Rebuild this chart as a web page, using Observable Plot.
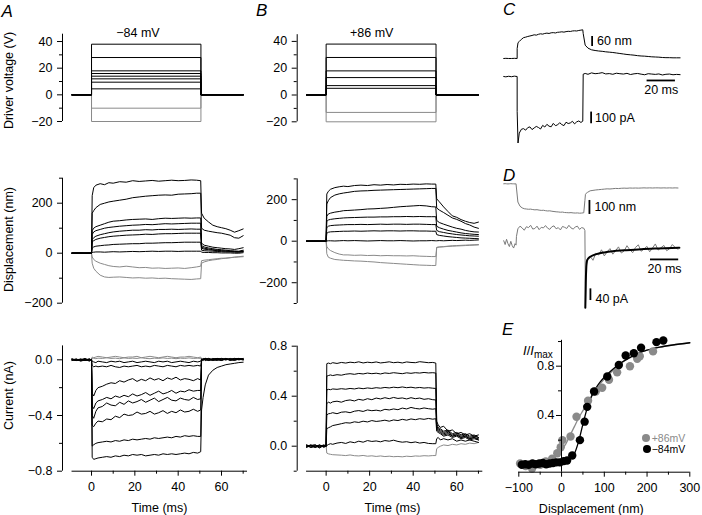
<!DOCTYPE html>
<html><head><meta charset="utf-8">
<script src="https://cdn.jsdelivr.net/npm/d3@7"></script>
<script src="https://cdn.jsdelivr.net/npm/@observablehq/plot@0.6"></script>
<style>
body{margin:0;background:#fff;}
#fig{position:relative;width:702px;height:515px;font-family:"Liberation Sans",Arial,Helvetica,sans-serif;color:#000;overflow:hidden;}
#fig svg{position:absolute;left:0;top:0;}
.lbl{position:absolute;white-space:nowrap;line-height:1;}
.dot{position:absolute;width:8px;height:8px;border-radius:50%;}
</style></head><body><div id="fig"></div>
<script>
// ---------------- DATA ----------------
// Driver-voltage step protocol (ms) and levels (V)
const vT = [-9, 0, 0, 50.5, 50.5, 70];
const aVoltBlack = [[0,0,38,38,0,0],[0,0,28,28,0,0],[0,0,18,18,0,0],[0,0,16,16,0,0],[0,0,14,14,0,0],[0,0,12,12,0,0],[0,0,9.5,9.5,0,0],[0,0,4.5,4.5,0,0]];
const aVoltGray = [[0,0,-10,-10,0,0],[0,0,-20,-20,0,0]];
const bVoltBlack = [[0,0,38,38,0,0],[0,0,28,28,0,0],[0,0,18,18,0,0],[0,0,13,13,0,0],[0,0,7,7,0,0],[0,0,5,5,0,0]];
const bVoltGray = [[0,0,-13,-13,0,0],[0,0,-20,-20,0,0]];

// Displacement traces (nm) sampled at tD (ms)
const tD = [-9,-6,-3,-0.01, 0.3,1,2,4,6,8,10,13,16,19,22,25,28,31,34,37,40,43,46,48.5,50.4, 50.8,52,54,56,58,60,62,64,66,68,70];
const aD1 = [0,2,-1,0, 230,262,272,278,274,282,280,286,284,290,287,289,291,288,290,292,290,291,293,292,290, 160,140,125,112,106,102,98,92,84,90,97];
const aD2 = [0,1,0,1, 160,170,182,195,200,205,208,212,216,222,225,228,230,232,233,232,236,237,238,240,240, 100,92,88,85,82,80,76,72,62,60,70];
const aD3 = [0,0,1,0, 90,100,106,112,118,124,128,130,133,135,136,137,135,138,140,139,140,141,140,141,141, 40,32,28,24,22,20,18,17,15,18,22];
const aD4 = [0,-1,0,0, 75,85,90,95,100,103,105,108,110,112,113,115,114,116,118,117,118,119,120,120,120, 30,25,21,18,15,14,12,10,9,8,12];
const aD5 = [0,0,0,1, 55,62,68,74,78,82,85,88,90,92,92,94,93,95,95,96,95,96,97,96,96, 25,20,17,14,12,10,9,8,7,6,9];
const aD6 = [1,0,0,0, 45,50,55,60,63,66,68,70,72,73,74,76,75,77,78,78,79,80,80,80,80, 20,16,14,12,10,9,8,7,6,5,7];
const aD7 = [0,0,-1,0, 20,25,28,30,32,33,35,36,37,38,38,40,40,41,42,42,43,44,44,44,44, 12,10,9,8,7,6,5,5,4,4,6];
const aD8 = [0,1,0,0, 3,4,5,5,4,5,6,5,6,7,6,7,8,7,8,8,7,8,8,8,8, 4,3,3,2,2,1,1,1,0,0,2];
const aD9 = [0,0,1,0, -15,-25,-32,-40,-45,-50,-53,-55,-52,-55,-58,-57,-60,-59,-61,-60,-59,-61,-58,-55,-52, -30,-28,-26,-24,-22,-20,-20,-18,-16,-15,-14];
const aD10 = [0,-1,0,0, -40,-60,-72,-88,-95,-97,-96,-95,-97,-99,-98,-100,-99,-101,-100,-102,-103,-104,-105,-103,-102, -40,-35,-30,-27,-25,-22,-20,-18,-16,-14,-12];

const bD1 = [0,1,0,0, 227,240,250,258,262,265,263,268,270,268,272,270,273,271,274,273,275,274,276,275,275, 204,190,165,143,122,115,104,96,90,86,92];
const bD2 = [0,0,1,0, 179,195,210,222,228,232,235,240,242,243,245,246,247,248,249,250,251,252,253,254,254, 160,150,138,125,112,105,96,85,78,68,62];
const bD3 = [0,0,0,1, 120,131,135,140,143,147,148,150,152,155,156,158,160,163,166,168,170,172,170,166,165, 100,90,82,75,68,62,58,52,48,45,44];
const bD4 = [0,1,0,0, 95,102,105,108,110,112,113,114,115,116,116,117,117,118,118,119,118,119,118,118,118, 72,65,58,52,48,44,40,37,35,33,32];
const bD5 = [0,0,1,0, 65,72,75,77,78,79,80,80,81,80,81,82,81,82,82,81,82,82,81,80,80, 52,46,42,38,35,32,30,28,26,25,24];
const bD6 = [1,0,0,0, 38,43,45,46,47,48,48,49,48,49,50,49,50,50,49,50,50,49,49,48,48, 32,28,25,22,20,18,16,15,14,13,12];
const bD7 = [0,0,0,0, 1,2,2,1,2,3,2,3,2,1,2,3,2,2,3,2,1,2,2,3,2, 2,3,2,3,4,3,4,5,4,5,6];
const bD8 = [0,0,1,0, -25,-37,-45,-55,-62,-66,-66,-68,-67,-69,-68,-70,-69,-70,-70,-71,-70,-72,-73,-74,-74, -30,-28,-26,-24,-22,-21,-20,-19,-18,-17,-16];
const bD9 = [0,-1,0,0, -60,-77,-82,-88,-90,-92,-93,-95,-96,-98,-100,-103,-105,-107,-109,-111,-113,-115,-116,-117,-117, -30,-28,-27,-25,-24,-23,-22,-21,-20,-19,-18];

// Current traces (nA) sampled at tI (ms)
const tI = [-9,-7,-5,-3,-1,-0.01, 0.3,1,2,3,5,7,9,11,13,15,17,19,21,23,25,27,29,31,33,35,37,39,41,43,45,47,49,50.4, 50.8,51.5,52.5,54,56,58,60,62,64,66,68,70];
const aI1 = [0.005,-0.005,0,0.01,-0.005,0, -0.70,-0.715,-0.71,-0.705,-0.70,-0.695,-0.70,-0.69,-0.695,-0.685,-0.69,-0.68,-0.685,-0.68,-0.69,-0.685,-0.68,-0.685,-0.675,-0.68,-0.675,-0.68,-0.675,-0.67,-0.675,-0.665,-0.67,-0.66, -0.36,-0.27,-0.18,-0.11,-0.075,-0.055,-0.045,-0.035,-0.03,-0.025,-0.02,-0.017];
const aI2 = [0,0.005,-0.005,0,0.005,0, -0.62,-0.61,-0.60,-0.595,-0.59,-0.585,-0.59,-0.58,-0.585,-0.575,-0.58,-0.57,-0.575,-0.57,-0.565,-0.57,-0.56,-0.565,-0.56,-0.555,-0.56,-0.55,-0.555,-0.545,-0.55,-0.545,-0.55,-0.55, -0.01,0.005,0,-0.005,0.01,0,-0.005,0.005,0,0.01,0,0.005];
const aI3 = [-0.005,0,0.005,-0.005,0,0.005, -0.47,-0.48,-0.455,-0.44,-0.445,-0.425,-0.43,-0.405,-0.415,-0.39,-0.40,-0.395,-0.375,-0.39,-0.385,-0.37,-0.39,-0.38,-0.365,-0.385,-0.37,-0.38,-0.36,-0.375,-0.37,-0.355,-0.37,-0.36, 0.005,-0.005,0.01,0,-0.005,0.005,0,0.01,-0.005,0,0.005,0];
const aI4 = [0.005,-0.005,0,0.005,-0.01,0, -0.40,-0.42,-0.37,-0.345,-0.335,-0.31,-0.325,-0.33,-0.305,-0.32,-0.295,-0.31,-0.30,-0.285,-0.305,-0.29,-0.275,-0.30,-0.285,-0.27,-0.29,-0.295,-0.275,-0.285,-0.29,-0.27,-0.285,-0.28, 0,0.01,-0.005,0.005,0,-0.005,0.01,0,0.005,-0.005,0.005,0];
const aI5 = [0,0.005,-0.01,0,0.005,-0.005, -0.33,-0.35,-0.31,-0.295,-0.285,-0.27,-0.28,-0.26,-0.27,-0.255,-0.265,-0.245,-0.26,-0.25,-0.235,-0.255,-0.24,-0.225,-0.245,-0.235,-0.22,-0.24,-0.225,-0.23,-0.215,-0.225,-0.22,-0.22, 0.005,0,0.01,-0.005,0.005,0.01,0,0.005,0,0.01,0.005,0.01];
const aI6 = [0.005,0,-0.005,0.005,0,0, -0.24,-0.26,-0.22,-0.20,-0.19,-0.175,-0.165,-0.17,-0.15,-0.16,-0.145,-0.135,-0.155,-0.14,-0.15,-0.13,-0.145,-0.135,-0.15,-0.13,-0.14,-0.125,-0.145,-0.135,-0.14,-0.15,-0.135,-0.145, -0.005,0.005,0,0.01,0,0.005,-0.005,0.01,0.005,0,0.01,0.005];
const aI7 = [0,-0.005,0.005,0,-0.005,0.005, -0.04,-0.05,-0.045,-0.05,-0.045,-0.05,-0.04,-0.05,-0.055,-0.045,-0.05,-0.045,-0.04,-0.05,-0.045,-0.05,-0.04,-0.045,-0.05,-0.04,-0.045,-0.05,-0.04,-0.045,-0.04,-0.045,-0.04,-0.045, 0,0.005,0.01,0,0.005,0.01,0.005,0,0.01,0.005,0.01,0.005];
const aI8 = [0.005,0,0,-0.005,0.005,0, -0.01,-0.015,-0.02,-0.01,-0.015,-0.02,-0.01,-0.015,-0.01,-0.02,-0.015,-0.01,-0.02,-0.015,-0.01,-0.015,-0.02,-0.01,-0.015,-0.01,-0.02,-0.015,-0.01,-0.015,-0.02,-0.01,-0.015,-0.01, 0.005,0,0.005,0.01,0,0.005,0.01,0.005,0,0.005,0.01,0.005];
const aI9 = [0,0.005,0,0.005,0,0, 0.02,0.015,0.02,0.025,0.02,0.015,0.02,0.025,0.02,0.015,0.02,0.02,0.025,0.015,0.02,0.025,0.02,0.015,0.02,0.025,0.02,0.015,0.02,0.02,0.025,0.02,0.015,0.02, 0.005,0,0.005,0,0.005,0.01,0,0.005,0,0.005,0,0.005];
const aI10 = [0,0,0.005,0,0.005,0, 0.01,0.012,0.008,0.012,0.01,0.015,0.01,0.012,0.008,0.014,0.01,0.012,0.01,0.015,0.01,0.008,0.012,0.01,0.014,0.01,0.012,0.008,0.012,0.01,0.014,0.01,0.012,0.01, 0,0.005,0,0.005,0,0,0.005,0,0.005,0,0.005,0];

const bI1 = [0.01,-0.01,0.005,-0.015,0.01,0, 0.66,0.665,0.66,0.668,0.662,0.67,0.665,0.672,0.668,0.675,0.666,0.672,0.668,0.674,0.666,0.67,0.675,0.668,0.672,0.666,0.674,0.67,0.668,0.676,0.672,0.668,0.67,0.665, 0.20,0.17,0.15,0.16,0.12,0.13,0.10,0.11,0.09,0.10,0.08,0.09];
const bI2 = [-0.005,0.01,-0.01,0.005,0,0.01, 0.56,0.565,0.57,0.565,0.572,0.568,0.576,0.58,0.575,0.582,0.578,0.585,0.58,0.584,0.578,0.586,0.582,0.588,0.584,0.58,0.587,0.583,0.588,0.585,0.59,0.586,0.588,0.585, 0.18,0.15,0.14,0.12,0.13,0.10,0.11,0.09,0.10,0.08,0.09,0.07];
const bI3 = [0.01,0,-0.01,0.01,-0.005,0, 0.45,0.455,0.452,0.458,0.455,0.46,0.456,0.462,0.458,0.465,0.46,0.466,0.462,0.468,0.464,0.47,0.466,0.472,0.468,0.474,0.468,0.472,0.466,0.47,0.465,0.468,0.464,0.462, 0.16,0.14,0.13,0.11,0.12,0.09,0.10,0.08,0.09,0.07,0.08,0.07];
const bI4 = [-0.01,0.005,0.01,-0.005,0,0.005, 0.34,0.352,0.345,0.355,0.36,0.352,0.365,0.37,0.362,0.375,0.368,0.38,0.372,0.385,0.378,0.388,0.38,0.39,0.382,0.386,0.378,0.388,0.38,0.385,0.375,0.38,0.372,0.37, 0.15,0.13,0.12,0.10,0.11,0.08,0.09,0.07,0.08,0.06,0.07,0.06];
const bI5 = [0.005,-0.01,0,0.01,-0.01,0.005, 0.25,0.259,0.262,0.268,0.26,0.272,0.275,0.268,0.28,0.285,0.278,0.29,0.284,0.288,0.282,0.295,0.29,0.298,0.292,0.305,0.298,0.31,0.302,0.298,0.306,0.3,0.296,0.3, 0.14,0.12,0.11,0.09,0.10,0.08,0.09,0.07,0.08,0.06,0.07,0.05];
const bI6 = [0,0.01,-0.005,0,0.01,-0.005, 0.14,0.147,0.155,0.165,0.172,0.18,0.188,0.185,0.195,0.19,0.2,0.194,0.205,0.198,0.202,0.208,0.2,0.21,0.205,0.215,0.208,0.218,0.212,0.22,0.215,0.222,0.216,0.22, 0.12,0.11,0.10,0.08,0.09,0.07,0.08,0.06,0.07,0.05,0.06,0.05];
const bI7 = [-0.005,0.005,0.01,-0.01,0.005,0, 0.005,0.013,0.02,0.015,0.025,0.03,0.022,0.035,0.028,0.04,0.032,0.045,0.038,0.042,0.035,0.045,0.04,0.048,0.038,0.032,0.036,0.028,0.034,0.025,0.03,0.022,0.02,0.02, 0.06,0.07,0.05,0.06,0.05,0.06,0.04,0.05,0.04,0.05,0.04,0.03];
const bI8 = [0,0.005,-0.005,0,0.005,0, -0.055,-0.061,-0.065,-0.068,-0.07,-0.072,-0.075,-0.07,-0.076,-0.078,-0.074,-0.08,-0.077,-0.082,-0.078,-0.083,-0.08,-0.084,-0.082,-0.085,-0.08,-0.083,-0.078,-0.08,-0.076,-0.078,-0.075,-0.075, -0.02,-0.01,0,0.01,0.005,0.015,0.01,0.02,0.015,0.025,0.02,0.03];

// Panel C (ms; nm; pA)
const tC = [-9.5,-8,-6,-4,-2,-0.01, 0,0.6,1.5,3,4.5,6,7.5,9,10.5,12,13.5,15,16.5,18,19.5,21,22.5,24,25.5,27,28.5,30,31.5,33,34.5,36,37.5,39,40.5,42,43.5,45,46.3, 46.6,48,50,52.5,55,57.5,60,62.5,65,67.5,70,72.5,75,77.5,80,82.5,85,87.5,90,92.5,95,97.5,100,102.5,105,107.5,110,112.5,115];
const cDisp = [0,1,0,0,1,0, 60,95,102,115,125,128,132,135,138,142,140,145,148,146,150,152,150,154,155,153,157,158,160,158,161,163,162,165,166,165,168,170,172, 150,80,62,52,48,45,43,40,38,36,33,30,27,24,22,20,17,15,14,12,10,9,8,6,5,5,4,4,4];
const cCurr = [0,-3,2,-2,3,0, -300,-570,-485,-452,-447,-460,-438,-432,-455,-441,-428,-437,-450,-419,-433,-410,-426,-431,-402,-421,-415,-396,-412,-421,-392,-403,-398,-384,-406,-389,-381,-394,-383, 20,26,19,31,24,27,33,22,25,19,28,24,21,27,17,23,26,20,15,24,21,18,22,13,19,21,15,18,16];
const cNmBar = [52.9, 72, 132];     // t, from, to (nm)
const cPaBar = [52.2, -405, -305];  // t, from, to (pA)
const cMsBar = [-34, 91.7, 111.7];  // level (pA), from, to (ms)

// Panel D (ms; nm; pA)
const tDD = [-9,-8,-7,-6,-5,-4,-3,-2,-1,-0.3, 0,1,2.5,4,5.5,7,8.5,10,11.5,13,14.5,16,17.5,19,20.5,22,23.5,25,26.5,28,29.5,31,32.5,34,35.5,37,38.5,40,41.5,43,44.5,46,47.5, 48.3,48.7,49.2,50,52,54,56,58,60,62,64,66,68,70,72,74,76,78,80,82,84,86,88,90,92,94,96,98,100,102,104,106,108,110,112,114];
const dDisp = [0,1,0,-1,0,1,0,0,-1,0, -30,-130,-160,-172,-178,-180,-182,-181,-184,-186,-185,-188,-190,-189,-192,-194,-193,-196,-198,-200,-201,-203,-202,-205,-206,-207,-206,-208,-209,-208,-210,-209,-207, -120,-75,-68,-62,-50,-47,-44,-42,-40,-38,-36,-37,-35,-33,-34,-32,-31,-32,-30,-31,-30,-31,-30,-29,-30,-29,-30,-29,-29,-30,-29,-30,-29,-30,-29,-30];
const dCurr = [5,-8,10,-5,-15,3,-12,-20,-5,-10, 20,46,55,49,41,53,50,58,45,47,55,43,51,49,57,48,44,53,56,46,50,42,54,51,47,58,49,45,52,55,44,50,48, 40,-225,-90,-58,-48,-62,-38,-44,-26,-47,-33,-22,-41,-29,-16,-37,-30,-12,-26,-36,-18,-9,-31,-24,-14,-33,-20,-6,-27,-19,-11,-29,-23,-8,-18,-24];
const dFitT = [48.6,48.9,49.3,49.7,50.5,52,54,57,62,68,76,88,100,115];
const dFitV = [-225,-140,-85,-65,-57,-50,-45,-40,-35,-31,-28,-24,-21.5,-19];
const dNmBar = [51.5, -219, -119];
const dPaBar = [52.2, -200, -160];
const dMsBar = [-59, 94.6, 114.5];

// Panel E (nm; I/Imax)
const eBlackX = [-93,-85,-77,-68,-60,-52,-44,-36,-28,-20,-12,-4,5,13,25,43,54,60,76,107,134,150,169,186,222,238];
const eBlackY = [0,0.005,0,0.01,0.005,0.01,0.015,0.005,0.01,0.015,0.02,0.02,0.03,0.035,0.075,0.20,0.35,0.47,0.595,0.716,0.81,0.887,0.905,0.95,0.995,1.008];
const eGrayX = [-97,-84,-69,-50,-37,-22,-10,-2,2,21,35,62,80,95,111,130,160,177,183,214];
const eGrayY = [0.01,-0.01,-0.03,0.0,0.027,0.05,0.094,0.143,0.20,0.23,0.39,0.52,0.595,0.625,0.69,0.75,0.80,0.86,0.88,0.92];
const eFitX = [-100,-75,-50,-25,0,10,20,30,40,50,60,70,80,90,100,120,140,160,180,200,230,260,300];
const eFitBlackY = [0.005,0.006,0.008,0.011,0.016,0.025,0.045,0.09,0.19,0.33,0.46,0.555,0.62,0.67,0.71,0.775,0.83,0.87,0.905,0.93,0.955,0.972,0.99];
const eFitGrayY = [0.006,0.01,0.018,0.04,0.12,0.17,0.24,0.31,0.38,0.44,0.5,0.555,0.61,0.655,0.695,0.765,0.825,0.87,0.905,0.93,0.955,0.972,0.99];

// Ticks
const voltMajor = [40,20,0,-20], voltMinor = [30,10,-10];
const dispMajor = [200,0,-200], aDispMinor = [300,100,-100], bDispMinor = [300,100,-100,-300];
const aCurMajor = [0,-0.4,-0.8], aCurMinor = [-0.2,-0.6];
const bCurMajor = [0.8,0.4,0], bCurMinor = [0.6,0.2,-0.2];
const timeMajor = [0,20,40,60], timeMinor = [10,30,50,70], timeSpan = [-9,72];
const eXMajor = [-100,0,100,200,300], eXMinor = [-50,50,150,250];
const eYMajor = [0.4,0.8], eYMinor = [0,0.2,0.6,1.0];

// ---------------- LAYOUT ----------------
const W = 702, H = 515;
const FONT = '"Liberation Sans", Arial, Helvetica, sans-serif';
const GRAY = "#8a8a8a";
const L = {
  aX: {dom: [-13.4, 72], px: [62, 247]},
  bX: {dom: [-13.3, 72], px: [296.7, 482.3]},
  aVolt: {dom: [-20, 45.5], px: [121, 33.7]},
  aDisp: {dom: [-200, 300], px: [302.7, 177.7]},
  aCurr: {dom: [-0.8, 0.1], px: [470.7, 345.4]},
  bVolt: {dom: [-20, 45], px: [121.3, 34.2]},
  bDisp: {dom: [-300, 300], px: [303, 178.4]},
  bCurr: {dom: [-0.2, 0.8], px: [470.7, 345.7]},
  cX: {dom: [-10, 115], px: [502.5, 679.6]},
  cDisp: {dom: [-30, 190], px: [63, 26.3]},
  cCurr: {dom: [-600, 60], px: [146, 69]},
  dX: {dom: [-10, 115], px: [501.8, 678.9]},
  dDisp: {dom: [-240, 20], px: [216.9, 180.5]},
  dCurr: {dom: [-240, 60], px: [311.7, 224.2]},
  eX: {dom: [-100, 300], px: [518.3, 689.3]},
  eY: {dom: [-0.06, 1.01], px: [471.7, 339.8]},
  eAxis: {dom: [0, 1], px: [561, 600]}
};
const fig = document.getElementById("fig");

function addPlot(xs, ys, marks, xAxis, yAxis) {
  const x = {domain: xs.dom}; if (!xAxis) x.axis = null;
  const y = {domain: ys.dom}; if (!yAxis) y.axis = null;
  const svg = Plot.plot({
    width: W, height: H,
    marginLeft: xs.px[0], marginRight: W - xs.px[1],
    marginTop: ys.px[1], marginBottom: H - ys.px[0],
    x, y,
    style: {fontFamily: FONT, fontSize: "12.5px", background: "transparent", color: "#000", overflow: "visible"},
    marks
  });
  fig.appendChild(svg);
}
const rows = (t, v) => t.map((x, i) => ({t: x, v: v[i]}));
const traces = (t, list, stroke, sw = 1) =>
  list.map(v => Plot.line(rows(t, v), {x: "t", y: "v", stroke, strokeWidth: sw, strokeLinejoin: "round"}));
function yAxisMarks(xs, ys, major, minor, fmt) {
  return [
    Plot.ruleX([xs.dom[0]], {y1: () => ys.dom[0], y2: () => ys.dom[1], stroke: "#000", strokeWidth: 1}),
    Plot.axisY(major, {tickSize: 5, tickPadding: 5, tickFormat: fmt, label: null}),
    Plot.axisY(minor, {tickSize: 3, fill: "none", label: null})
  ];
}
function xAxisMarks(ys) {
  return [
    Plot.ruleY([ys.dom[0]], {x1: () => timeSpan[0], x2: () => timeSpan[1], stroke: "#000", strokeWidth: 1}),
    Plot.axisX(timeMajor, {tickSize: 5, tickPadding: 6, tickFormat: d3.format("d"), label: null}),
    Plot.axisX(timeMinor, {tickSize: 3, fill: "none", label: null})
  ];
}
const yTitle = (s, dy) => Plot.text([s], {frameAnchor: "left", textAnchor: "middle", lineAnchor: "middle", rotate: -90, dx: -53.5, dy, fontSize: 12.5});
const xTitle = (s, dx) => Plot.text([s], {frameAnchor: "bottom", textAnchor: "middle", lineAnchor: "middle", dx, dy: 36.3, fontSize: 12.5});
const fInt = d3.format("d"), f1 = d3.format(".1f");

// ---- Panel A ----
addPlot(L.aX, L.aVolt, [
  ...traces(vT, aVoltGray, GRAY), ...traces(vT, aVoltBlack, "#000"),
  ...yAxisMarks(L.aX, L.aVolt, voltMajor, voltMinor, fInt),
  yTitle("Driver voltage (V)", 2.6)
], false, true);
addPlot(L.aX, L.aDisp, [
  ...traces(tD, [aD9, aD10], GRAY), ...traces(tD, [aD1, aD2, aD3, aD4, aD5, aD6, aD7, aD8], "#000"),
  ...yAxisMarks(L.aX, L.aDisp, dispMajor, aDispMinor, fInt),
  yTitle("Displacement (nm)", -1.2)
], false, true);
addPlot(L.aX, L.aCurr, [
  ...traces(tI, [aI9, aI10], GRAY), ...traces(tI, [aI1, aI2, aI3, aI4, aI5, aI6, aI7, aI8], "#000"),
  ...yAxisMarks(L.aX, L.aCurr, aCurMajor, aCurMinor, f1),
  ...xAxisMarks(L.aCurr),
  yTitle("Current (nA)", -13),
  xTitle("Time (ms)", 4.5)
], true, true);

// ---- Panel B ----
addPlot(L.bX, L.bVolt, [
  ...traces(vT, bVoltGray, GRAY), ...traces(vT, bVoltBlack, "#000"),
  ...yAxisMarks(L.bX, L.bVolt, voltMajor, voltMinor, fInt)
], false, true);
addPlot(L.bX, L.bDisp, [
  ...traces(tD, [bD8, bD9], GRAY), ...traces(tD, [bD1, bD2, bD3, bD4, bD5, bD6, bD7], "#000"),
  ...yAxisMarks(L.bX, L.bDisp, dispMajor, bDispMinor, fInt)
], false, true);
addPlot(L.bX, L.bCurr, [
  ...traces(tI, [bI8], GRAY), ...traces(tI, [bI1, bI2, bI3, bI4, bI5, bI6, bI7], "#000"),
  ...yAxisMarks(L.bX, L.bCurr, bCurMajor, bCurMinor, f1),
  ...xAxisMarks(L.bCurr),
  xTitle("Time (ms)", 2.5)
], true, true);

// ---- Panel C ----
const vBar = (b, lbl, dx, dy = 0) => [
  Plot.ruleX([b[0]], {y1: () => b[1], y2: () => b[2], stroke: "#000", strokeWidth: 1.8}),
  Plot.text([lbl], {x: () => b[0], y: () => (b[1] + b[2]) / 2, dx, dy, textAnchor: "start", fontSize: 12.5})
];
const hBar = (b, lbl, dy) => [
  Plot.ruleY([b[0]], {x1: () => b[1], x2: () => b[2], stroke: "#000", strokeWidth: 1.8}),
  Plot.text([lbl], {x: () => (b[1] + b[2]) / 2, y: () => b[0], dy, fontSize: 12.5})
];
addPlot(L.cX, L.cDisp, [
  ...traces(tC, [cDisp], "#000", 1),
  ...vBar(cNmBar, "60 nm", 5)
], false, false);
addPlot(L.cX, L.cCurr, [
  ...traces(tC, [cCurr], "#000", 1),
  ...vBar(cPaBar, "100 pA", 4),
  ...hBar(cMsBar, "20 ms", 10)
], false, false);

// ---- Panel D ----
addPlot(L.dX, L.dDisp, [
  ...traces(tDD, [dDisp], "#7a7a7a", 1),
  ...vBar(dNmBar, "100 nm", 5)
], false, false);
addPlot(L.dX, L.dCurr, [
  ...traces(tDD, [dCurr], "#7a7a7a", 1),
  Plot.line(rows(dFitT, dFitV), {x: "t", y: "v", stroke: "#000", strokeWidth: 2, curve: "monotone-x"}),
  ...vBar(dPaBar, "40 pA", 5, 4),
  ...hBar(dMsBar, "20 ms", 9.5)
], false, false);

// ---- Panel E ----
addPlot(L.eX, L.eY, [
  Plot.line(rows(eFitX, eFitGrayY), {x: "t", y: "v", stroke: GRAY, strokeWidth: 1.3, curve: "monotone-x"}),
  Plot.line(rows(eFitX, eFitBlackY), {x: "t", y: "v", stroke: "#000", strokeWidth: 1.3, curve: "monotone-x"}),
  Plot.dot(rows(eGrayX, eGrayY), {x: "t", y: "v", r: 4.2, fill: GRAY}),
  Plot.dot(rows(eBlackX, eBlackY), {x: "t", y: "v", r: 4.2, fill: "#000"}),
  Plot.ruleY([L.eY.dom[0]], {x1: () => L.eX.dom[0], x2: () => L.eX.dom[1], stroke: "#000"}),
  Plot.axisX(eXMajor, {tickSize: 5, tickPadding: 6, tickFormat: fInt, label: null}),
  Plot.axisX(eXMinor, {tickSize: 3, fill: "none", label: null}),
  xTitle("Displacement (nm)", -13)
], true, false);
addPlot(L.eAxis, L.eY, [
  Plot.ruleX([L.eAxis.dom[0]], {y1: () => L.eY.dom[0], y2: () => L.eY.dom[1], stroke: "#000"}),
  Plot.axisY(eYMajor, {tickSize: 5, tickPadding: 2, tickFormat: f1, label: null}),
  Plot.axisY(eYMinor, {tickSize: 3, fill: "none", label: null})
], false, true);

// ---------------- HTML LABELS ----------------
function label(html, left, top, style = "") {
  const d = document.createElement("div");
  d.className = "lbl"; d.innerHTML = html;
  d.style.cssText += `left:${left}px;top:${top}px;${style}`;
  fig.appendChild(d);
}
const letter = "font-size:17px;font-style:italic;";
label("A", 1.5, 2.9, letter);
label("B", 256, 2.3, letter);
label("C", 503, 0.6, letter);
label("D", 503, 166.6, letter);
label("E", 502, 320.6, letter);
label("\u221284 mV", 138, 26.7, "font-size:12.5px;transform:translateX(-50%);");
label("+86 mV", 371.7, 26.7, "font-size:12.5px;transform:translateX(-50%);");
label('<i>I</i>/<i>I</i><span style="font-size:10px;position:relative;top:3px;">max</span>', 523, 343.5, "font-size:13px;");
function dot(left, top, color) {
  const d = document.createElement("div"); d.className = "dot";
  d.style.cssText += `left:${left}px;top:${top}px;background:${color};`; fig.appendChild(d);
}
dot(642, 433.5, GRAY); label("+86mV", 651.7, 432.9, `font-size:10.5px;color:${GRAY};`);
dot(642.7, 444.5, "#000"); label("\u221284mV", 651.7, 443.6, "font-size:10.5px;");
</script></body></html>
